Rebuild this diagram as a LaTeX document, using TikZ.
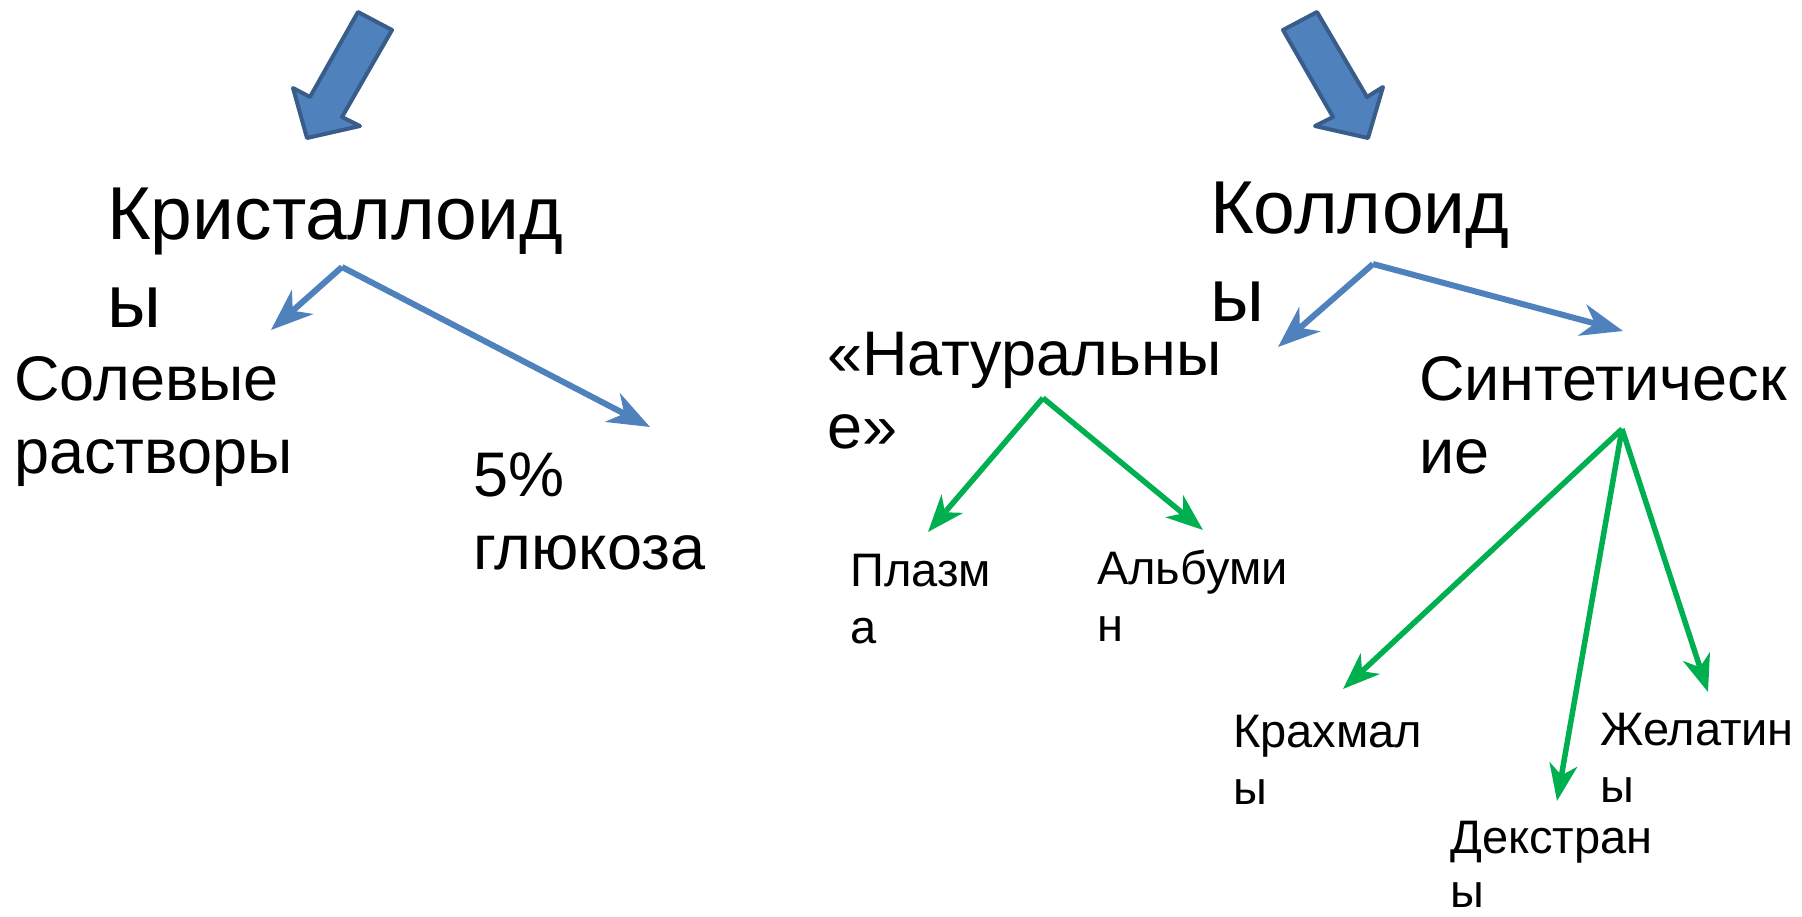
\documentclass[tikz,border=0pt]{standalone}
\usepackage{fontspec}
\setmainfont{Liberation Sans}
\usetikzlibrary{arrows.meta}
\definecolor{bl}{HTML}{4F81BD}
\definecolor{bld}{HTML}{385D8A}
\definecolor{gr}{HTML}{00B050}
\newcommand\twol[2]{\vtop{\hbox{#1}\hbox{#2}}}
\begin{document}
\begin{tikzpicture}[x=1pt,y=-1pt,
 lbl/.style={anchor=base west, inner sep=0pt, text=black},
 big/.style={lbl, font=\fontsize{75}{88}\selectfont},
 mid/.style={lbl, font=\fontsize{63}{73}\selectfont},
 sml/.style={lbl, font=\fontsize{47}{57}\selectfont},
 bline/.style={draw=bl, line width=6pt, -{Stealth[length=42pt,width=32pt,inset=13pt]}},
 gline/.style={draw=gr, line width=5.5pt, -{Stealth[length=37pt,width=28pt,inset=11pt]}},
 bigarrow/.style={fill=bl, draw=bld, line width=4pt, line join=round}]
\useasboundingbox (0,0) rectangle (1802,916);
\fill[white] (0,0) rectangle (1802,916);

% big block arrows
\draw[bigarrow] (358,12) -- (310,97) -- (293,88) -- (307,138) -- (360,126) -- (342,117) -- (392,30) -- cycle;
\draw[bigarrow] (1317,12) -- (1367,97) -- (1383,87) -- (1368,138) -- (1315,126) -- (1333,117) -- (1283,30) -- cycle;

% labels
\node[big] (krist) at (107,239) {\twol{Кристаллоид}{ы}};
\node[big] (koll) at (1210,233) {\twol{Коллоид}{ы}};
\node[mid] (sol) at (14,400) {\twol{Солевые}{растворы}};
\node[mid] (gluk) at (473,496) {\twol{5\%}{глюкоза}};
\node[mid] (nat) at (827,375) {\twol{«Натуральны}{е»}};
\node[mid] (sint) at (1419,400) {\twol{Синтетическ}{ие}};
\node[sml] (plaz) at (850,586) {\twol{Плазм}{а}};
\node[sml] (alb) at (1097,584) {\twol{Альбуми}{н}};
\node[sml] (krah) at (1233,747) {\twol{Крахмал}{ы}};
\node[sml] (zhel) at (1600,745) {\twol{Желатин}{ы}};
\node[sml, font=\fontsize{47}{54}\selectfont] (dekst) at (1450,853) {\twol{Декстран}{ы}};

% connector points
\coordinate (kS) at (342,267);
\coordinate (kL) at (271,330);
\coordinate (kR) at (650,427);
\coordinate (cS) at (1373,264);
\coordinate (cL) at (1278,347);
\coordinate (cR) at (1623,331);
\coordinate (nS) at (1043,398);
\coordinate (nL) at (928,532);
\coordinate (nR) at (1203,530);
\coordinate (sS) at (1622,429);
\coordinate (sL) at (1343,689);
\coordinate (sM) at (1557,801);
\coordinate (sR) at (1708,692);

\draw[bline] (kS) -- (kL);
\draw[bline] (kS) -- (kR);
\draw[bline] (cS) -- (cL);
\draw[bline] (cS) -- (cR);
\draw[gline] (nS) -- (nL);
\draw[gline] (nS) -- (nR);
\draw[gline] (sS) -- (sL);
\draw[gline] (sS) -- (sM);
\draw[gline] (sS) -- (sR);
\end{tikzpicture}
\end{document}
